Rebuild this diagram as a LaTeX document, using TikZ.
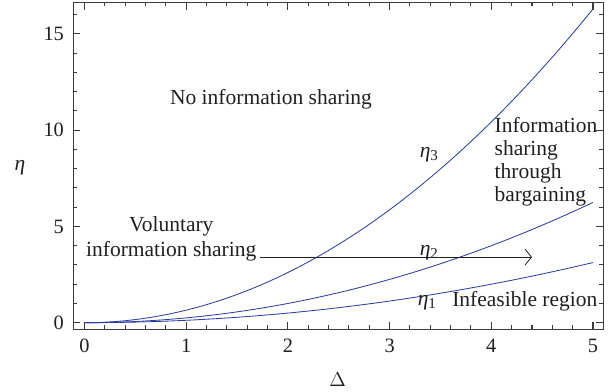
\documentclass[tikz,border=0pt]{standalone}
\usepackage{fontspec}
\setmainfont{Liberation Serif}
\usetikzlibrary{arrows.meta}
\definecolor{curveblue}{RGB}{45,62,160}
\definecolor{framegray}{RGB}{60,60,60}
\definecolor{textgray}{RGB}{35,31,32}

\begin{document}
\begin{tikzpicture}[x=2.5425cm, y=0.48125cm,
    curve/.style={curveblue, line width=0.6pt, domain=0:5, samples=80},
    frame/.style={framegray, line width=0.75pt},
    lbl/.style={text=textgray, inner sep=0pt, font=\fontsize{15.3}{17.3}\selectfont},
    ticklbl/.style={text=textgray, inner sep=0pt, font=\fontsize{14.5}{16}\selectfont},
    arr/.style={-{Straight Barb[length=1.6mm, width=4mm]}, line width=0.6pt, textgray}
  ]
  \useasboundingbox (-0.831,-3.6) rectangle (5.177,16.764);

  % the three boundary curves
  \draw[curve] plot (\x, {0.652*\x*\x});
  \draw[curve] plot (\x, {0.25*\x*\x});
  \draw[curve] plot (\x, {0.125*\x*\x});

  % frame and ticks
  \draw[frame] (-0.11,-0.33) rectangle (5.1,16.64);
  \foreach \t in {0,0.2,...,5.01} {
    \draw[frame] (\t,-0.33) -- ++(0,0.1cm);
    \draw[frame] (\t,16.64) -- ++(0,-0.1cm);
  }
  \foreach \t in {0,...,5} {
    \draw[frame] (\t,-0.33) -- ++(0,0.18cm);
    \draw[frame] (\t,16.64) -- ++(0,-0.18cm);
    \node[ticklbl, anchor=base] (xl\t) at (\t,-1.57) {\t};
  }
  \foreach \t in {0,...,16} {
    \draw[frame] (-0.11,\t) -- ++(0.1cm,0);
    \draw[frame] (5.1,\t) -- ++(-0.1cm,0);
  }
  \foreach \t in {0,5,10,15} {
    \draw[frame] (-0.11,\t) -- ++(0.17cm,0);
    \draw[frame] (5.1,\t) -- ++(-0.17cm,0);
    \node[ticklbl, anchor=east] (yl\t) at (-0.2,\t) {\t};
  }

  % axis titles
  \node[lbl] (xtitle) at (2.49,-2.98) {$\Delta$};
  \node[lbl] (ytitle) at (-0.634,8.06) {\textit{η}};

  % region labels
  \node[lbl, anchor=base] (nosharing) at (1.834,11.32) {No information sharing};
  \node[lbl, align=center] (voluntary) at (0.853,4.35) {Voluntary\\information sharing};
  \node[lbl, anchor=west, align=left, font=\fontsize{15.3}{16.4}\selectfont]
    (bargaining) at (4.03,8.36) {Information\\sharing\\through\\bargaining};
  \node[lbl, anchor=base] (infeasible) at (4.33,0.85) {Infeasible region};

  % curve labels
  \node[lbl] (eta3) at (3.39,8.73) {\textit{η}\textsubscript{3}};
  \node[lbl] (eta2) at (3.39,3.62) {\textit{η}\textsubscript{2}};
  \node[lbl] (eta1) at (3.37,1.02) {\textit{η}\textsubscript{1}};

  % arrow across the regions
  \coordinate (arrstart) at (1.73,3.41);
  \coordinate (arrend) at (4.40,3.41);
  \draw[arr] (arrstart) -- (arrend);
\end{tikzpicture}
\end{document}
